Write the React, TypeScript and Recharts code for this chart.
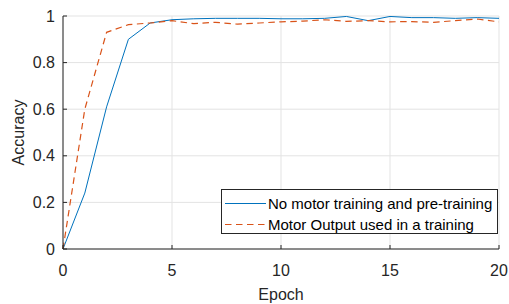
import React from 'react';
import { LineChart, Line, XAxis, YAxis, CartesianGrid, Label } from 'recharts';

const epochs = [0, 1, 2, 3, 4, 5, 6, 7, 8, 9, 10, 11, 12, 13, 14, 15, 16, 17, 18, 19, 20];
const noMotor = [0, 0.24, 0.61, 0.9, 0.97, 0.984, 0.988, 0.99, 0.99, 0.99, 0.988, 0.988, 0.99, 0.998, 0.98, 0.998, 0.993, 0.993, 0.99, 0.993, 0.99];
const motorOutput = [0, 0.6, 0.93, 0.963, 0.97, 0.98, 0.967, 0.973, 0.965, 0.97, 0.975, 0.978, 0.984, 0.977, 0.98, 0.975, 0.976, 0.973, 0.98, 0.987, 0.975];
const xTicks = [0, 5, 10, 15, 20];
const yTicks = [0, 0.2, 0.4, 0.6, 0.8, 1];
const seriesNames = ['No motor training and pre-training', 'Motor Output used in a training'];

const data = epochs.map((e, i) => ({ epoch: e, a: noMotor[i], b: motorOutput[i] }));

const FONT = '"Liberation Sans", Arial, Helvetica, sans-serif';
const AX = '#262626';
const BLUE = '#0072BD';
const ORANGE = '#D95319';
const DASH = '6.5 4.5';

const XTick = (props: any) => {
  const { x, y, payload } = props;
  return (
    <g>
      <line x1={x} x2={x} y1={y - 16} y2={y - 20} stroke={AX} strokeWidth={1} />
      <text x={x} y={y} dy="0.71em" textAnchor="middle" fill={AX} fontSize={16} fontFamily={FONT}>
        {payload.value}
      </text>
    </g>
  );
};

const YTick = (props: any) => {
  const { x, y, payload } = props;
  return (
    <g>
      <line x1={x + 8} x2={x + 12} y1={y} y2={y} stroke={AX} strokeWidth={1} />
      <text x={x} y={y} dy="0.355em" textAnchor="end" fill={AX} fontSize={16} fontFamily={FONT}>
        {payload.value}
      </text>
    </g>
  );
};

export default function App() {
  return (
    <div style={{ position: 'absolute', left: 0, top: 0, width: 509, height: 304, background: '#fff' }}>
      <LineChart width={509} height={304} data={data} margin={{ top: 16, right: 10, bottom: 0, left: 0 }}>
        <CartesianGrid stroke="#e3e3e3" strokeWidth={1} />
        <XAxis
          dataKey="epoch"
          type="number"
          domain={[0, 20]}
          ticks={xTicks}
          height={55}
          tickSize={0}
          tickMargin={16}
          tickLine={false}
          stroke={AX}
          tick={<XTick />}
        >
          <Label value="Epoch" position="insideBottom" offset={4} fill={AX} fontSize={16} fontFamily={FONT} />
        </XAxis>
        <YAxis
          type="number"
          domain={[0, 1]}
          ticks={yTicks}
          width={63}
          tickSize={0}
          tickMargin={8}
          tickLine={false}
          stroke={AX}
          tick={<YTick />}
        >
          <Label
            content={(p: any) => {
              const vb = p.viewBox;
              const cy = vb.y + vb.height / 2;
              return (
                <text
                  x={18}
                  y={cy}
                  transform={`rotate(-90 18 ${cy})`}
                  textAnchor="middle"
                  dominantBaseline="central"
                  fill={AX}
                  fontSize={16}
                  fontFamily={FONT}
                >
                  Accuracy
                </text>
              );
            }}
          />
        </YAxis>
        <Line type="linear" dataKey="a" stroke={BLUE} strokeWidth={1} dot={false} isAnimationActive={false} />
        <Line type="linear" dataKey="b" stroke={ORANGE} strokeWidth={1.2} strokeDasharray={DASH} dot={false} isAnimationActive={false} />
      </LineChart>
      <div
        style={{
          position: 'absolute',
          left: 221,
          top: 189,
          width: 277,
          height: 45,
          boxSizing: 'border-box',
          border: `1px solid ${AX}`,
          background: '#fff',
          fontFamily: FONT,
          fontSize: 15,
          color: '#000',
        }}
      >
        {seriesNames.map((name, i) => (
          <div key={name} style={{ position: 'absolute', left: 0, top: 3 + i * 21, height: 21, display: 'flex', alignItems: 'center', whiteSpace: 'nowrap' }}>
            <svg width={46} height={21} style={{ display: 'block' }}>
              <line
                x1={3}
                x2={44}
                y1={10.5}
                y2={10.5}
                stroke={i === 0 ? BLUE : ORANGE}
                strokeWidth={i === 0 ? 1 : 1.2}
                strokeDasharray={i === 0 ? undefined : DASH}
              />
            </svg>
            <span>{name}</span>
          </div>
        ))}
      </div>
    </div>
  );
}
